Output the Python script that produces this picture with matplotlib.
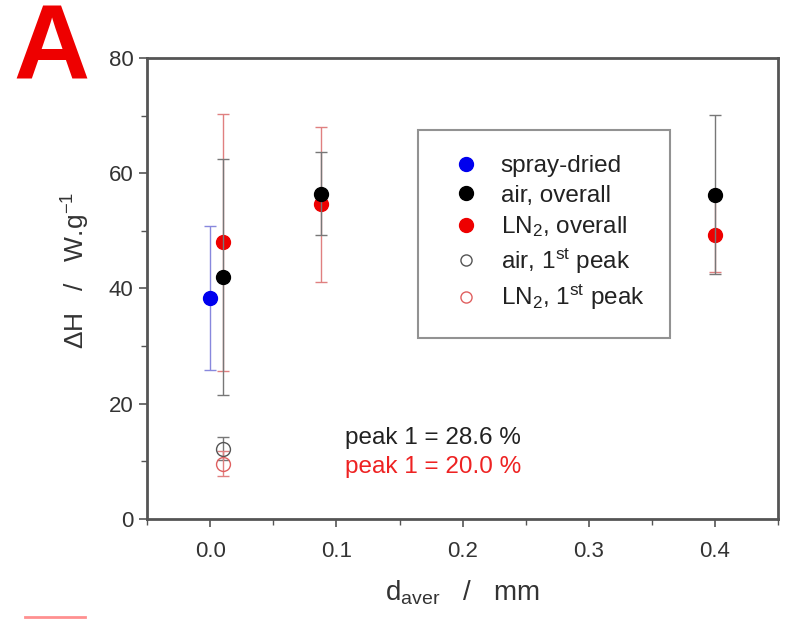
import matplotlib.pyplot as plt
from matplotlib.ticker import MultipleLocator
from matplotlib.lines import Line2D

plt.rcParams['font.family'] = ['Liberation Sans', 'DejaVu Sans']
plt.rcParams['mathtext.fontset'] = 'custom'
plt.rcParams['mathtext.rm'] = 'Liberation Sans'
plt.rcParams['mathtext.it'] = 'Liberation Sans'
plt.rcParams['mathtext.default'] = 'regular'

# data
sd_x = [0.0]
sd_y = [38.3]
sd_err = [12.5]

air_x = [0.010, 0.088, 0.400]
air_y = [42.0, 56.4, 56.3]
air_err = [20.5, 7.2, 13.8]

ln2_x = [0.010, 0.088, 0.400]
ln2_y = [48.0, 54.6, 49.3]
ln2_err = [22.3, 13.5, 6.4]

air1_x = [0.010]
air1_y = [12.2]
air1_err = [2.0]

ln2p1_x = [0.010]
ln2p1_y = [9.6]
ln2p1_err = [2.2]

labels = ["spray-dried", "air, overall", "LN$_2$, overall",
          "air, 1$^{st}$ peak", "LN$_2$, 1$^{st}$ peak"]

fig = plt.figure(figsize=(7.87, 6.19), dpi=100)
ax = fig.add_axes([0.187, 0.1616, 0.8016, 0.7447])

ax.errorbar(sd_x, sd_y, yerr=sd_err, fmt="o", color="#0000ee", ecolor="#8888dd",
            ms=10, capsize=4, elinewidth=1, zorder=3)
ax.errorbar(ln2_x, ln2_y, yerr=ln2_err, fmt="o", color="#ee0000", ecolor="#e08080",
            ms=10, capsize=4, elinewidth=1, zorder=3)
ax.errorbar(air_x, air_y, yerr=air_err, fmt="o", color="black", ecolor="#777777",
            ms=10, capsize=4, elinewidth=1, zorder=4)
ax.errorbar(air1_x, air1_y, yerr=air1_err, fmt="o", mfc="none", mec="#555555", ecolor="#777777",
            ms=10, capsize=4, elinewidth=1, zorder=3)
ax.errorbar(ln2p1_x, ln2p1_y, yerr=ln2p1_err, fmt="o", mfc="none", mec="#e06060", ecolor="#e08080",
            ms=10, capsize=4, elinewidth=1, zorder=3)

ax.set_xlim(-0.05, 0.45)
ax.set_ylim(0, 80)
ax.xaxis.set_major_locator(MultipleLocator(0.1))
ax.xaxis.set_minor_locator(MultipleLocator(0.05))
ax.yaxis.set_major_locator(MultipleLocator(20))
ax.yaxis.set_minor_locator(MultipleLocator(10))
ax.set_xticks([0.0, 0.1, 0.2, 0.3, 0.4])
ax.set_xticklabels(["0.0", "0.1", "0.2", "0.3", "0.4"])

for s in ax.spines.values():
    s.set_linewidth(2)
    s.set_color("#555555")
ax.tick_params(which="both", direction="out", labelsize=16, labelcolor="#333333", color="#555555")
ax.tick_params(which="major", length=6, width=1.2)
ax.tick_params(which="minor", length=4, width=1)
ax.tick_params(axis="x", pad=10)
ax.tick_params(axis="y", pad=4)

ax.set_ylabel("$\\Delta$H   /   W.g$^{-1}$", fontsize=19, color="#333333")
ax.yaxis.set_label_coords(-0.087, 0.54)
ax.set_xlabel("d$_{aver}$   /   mm", fontsize=20, color="#333333", labelpad=12)

handles = [
    Line2D([], [], ls="none", marker="o", color="#0000ee", ms=10),
    Line2D([], [], ls="none", marker="o", color="black", ms=10),
    Line2D([], [], ls="none", marker="o", color="#ee0000", ms=10),
    Line2D([], [], ls="none", marker="o", mfc="none", mec="#555555", ms=8),
    Line2D([], [], ls="none", marker="o", mfc="none", mec="#e06060", ms=8),
]
leg = ax.legend(handles, labels, loc="upper left", bbox_to_anchor=(0.4295, 0.844), fontsize=17.5,
                frameon=True, fancybox=False, edgecolor="#777777", handletextpad=0.55,
                borderpad=1.05, borderaxespad=0, labelspacing=0.3, handlelength=1.8)
leg.get_frame().set_linewidth(1.5)
for t in leg.get_texts():
    t.set_color("#222222")

ax.text(0.107, 14.1, "peak 1 = 28.6 %", fontsize=17.5, color="#222222", ha="left", va="center")
ax.text(0.107, 9.0, "peak 1 = 20.0 %", fontsize=17.5, color="#ee2222", ha="left", va="center")

fig.text(0.017, 0.871, "A", fontsize=76, fontweight="bold", color="#ee0000",
         ha="left", va="baseline")
fig.add_artist(Line2D([0.032, 0.108], [0.003, 0.003], color="#ff9090", lw=2))

fig.savefig("out.png", dpi=100)
